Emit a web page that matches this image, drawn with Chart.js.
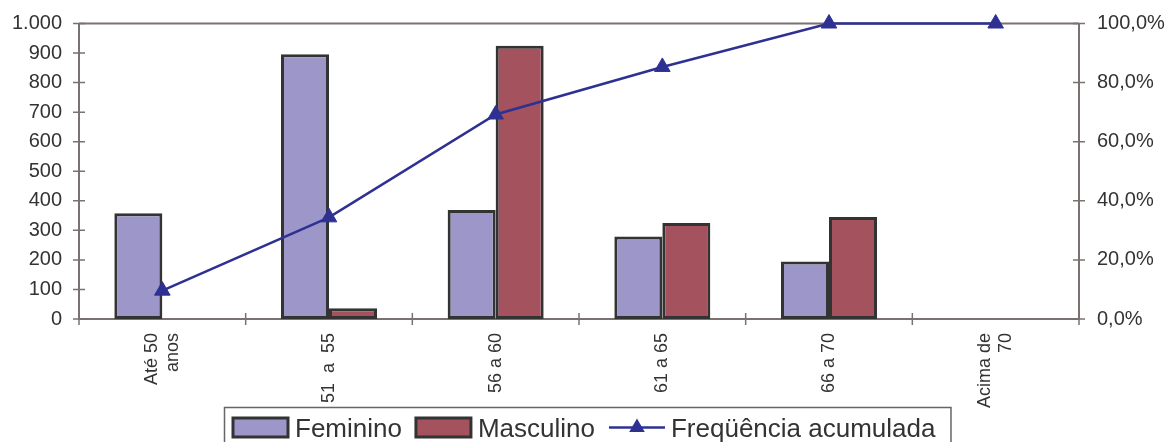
<!DOCTYPE html>
<html>
<head>
<meta charset="utf-8">
<script src="https://cdn.jsdelivr.net/npm/chart.js@4"></script>
<style>
  html, body { margin: 0; padding: 0; background: #fff; overflow: hidden; }
  #wrap { position: relative; width: 1167px; height: 442px; }
</style>
</head>
<body>
<div id="wrap"><canvas id="c" width="1167" height="442"></canvas></div>
<script>
// Age bands (multi-line labels for the category axis)
const categories = [['Até 50', 'anos'], ['51  a  55'], ['56 a 60'], ['61 a 65'], ['66 a 70'], ['Acima de', '70']];
// Counts per age band
const feminino = [358, 896, 369, 279, 195, 0];
const masculino = [0, 36, 925, 325, 345, 0];
// Cumulative frequency, in percent
const freqAcumulada = [9.6, 34.4, 69.2, 85.3, 100, 100];
// Axis ranges
const countAxis = { min: 0, max: 1000, step: 100 };
const pctAxis = { min: 0, max: 100, step: 20 };

const FONT = '"Liberation Sans", Arial, sans-serif';
const TEXT = '#333333';
const AXIS = '#7a7270';
const FEM = '#9c97c8';
const MASC = '#a5525f';
const LINE = '#2e3192';
const EDGE = '#333333';

function thousands(v) {
  return String(v).replace(/\B(?=(\d{3})+(?!\d))/g, '.');
}
function percent(v) {
  return v.toFixed(1).replace('.', ',') + '%';
}

// Frame line on top of the plot and tick marks that cross the axes
const axisMarks = {
  id: 'axisMarks',
  beforeDatasetsDraw(chart) {
    const { ctx, chartArea: a, scales } = chart;
    ctx.save();
    ctx.strokeStyle = AXIS;
    ctx.lineWidth = 2;
    ctx.beginPath();
    ctx.moveTo(a.left, a.top);
    ctx.lineTo(a.right, a.top);
    ctx.stroke();
    ctx.lineWidth = 1.5;
    ctx.beginPath();
    scales.y.ticks.forEach(t => {
      const py = scales.y.getPixelForValue(t.value);
      ctx.moveTo(a.left - 6, py); ctx.lineTo(a.left + 6, py);
    });
    scales.y1.ticks.forEach(t => {
      const py = scales.y1.getPixelForValue(t.value);
      ctx.moveTo(a.right - 6, py); ctx.lineTo(a.right + 6, py);
    });
    for (let i = 0; i <= categories.length; i++) {
      const px = scales.x.getPixelForValue(i - 0.5);
      ctx.moveTo(px, a.bottom - 6); ctx.lineTo(px, a.bottom + 6);
    }
    ctx.stroke();
    ctx.restore();
  }
};

// Vertical category labels, lines centred on each band
const bandLabels = {
  id: 'bandLabels',
  afterDraw(chart) {
    const { ctx, chartArea: a, scales } = chart;
    const lh = 21;
    ctx.save();
    ctx.fillStyle = TEXT;
    ctx.font = '18px ' + FONT;
    ctx.textAlign = 'right';
    ctx.textBaseline = 'middle';
    categories.forEach((lines, i) => {
      const px = scales.x.getPixelForTick(i);
      ctx.save();
      ctx.translate(px, a.bottom + 14);
      ctx.rotate(-Math.PI / 2);
      lines.forEach((s, j) => {
        ctx.fillText(s, 0, (j - (lines.length - 1) / 2) * lh);
      });
      ctx.restore();
    });
    ctx.restore();
  }
};

// Framed legend below the category labels
const framedLegend = {
  id: 'framedLegend',
  afterDraw(chart) {
    const { ctx } = chart;
    const top = 407;
    const left = 224;
    const midY = 427.5;
    ctx.save();
    ctx.font = '26px ' + FONT;
    ctx.textBaseline = 'alphabetic';
    ctx.fillStyle = TEXT;
    let x = 233;
    chart.data.datasets.slice().sort((p, q) => p.legendIndex - q.legendIndex).forEach(ds => {
      if (ds.type === 'line') {
        ctx.strokeStyle = ds.borderColor;
        ctx.lineWidth = 2.5;
        ctx.beginPath();
        ctx.moveTo(x, midY); ctx.lineTo(x + 56, midY);
        ctx.stroke();
        const r = 9, cx = x + 28;
        ctx.fillStyle = ds.pointBackgroundColor;
        ctx.beginPath();
        ctx.moveTo(cx, midY - r);
        ctx.lineTo(cx + r * 0.866, midY + r * 0.5);
        ctx.lineTo(cx - r * 0.866, midY + r * 0.5);
        ctx.closePath();
        ctx.fill();
        ctx.fillStyle = TEXT;
        ctx.fillText(ds.label, x + 62, 437);
        x += 62 + ctx.measureText(ds.label).width + 15;
      } else {
        ctx.fillStyle = ds.backgroundColor;
        ctx.fillRect(x, 418, 55, 19);
        ctx.strokeStyle = EDGE;
        ctx.lineWidth = 3;
        ctx.strokeRect(x, 418, 55, 19);
        ctx.fillStyle = TEXT;
        ctx.fillText(ds.label, x + 62, 437);
        x += 62 + ctx.measureText(ds.label).width + 14;
      }
    });
    ctx.strokeStyle = '#666';
    ctx.lineWidth = 1.5;
    ctx.strokeRect(left + 0.5, top + 0.5, x - left, 80);
    ctx.restore();
  }
};

new Chart(document.getElementById('c'), {
  data: {
    labels: categories,
    datasets: [
      {
        type: 'line', label: 'Freqüência acumulada', legendIndex: 2,
        data: freqAcumulada, yAxisID: 'y1', order: 0,
        borderColor: LINE, borderWidth: 2.5, tension: 0,
        pointStyle: 'triangle', pointRadius: 9, pointBorderWidth: 1,
        pointBackgroundColor: LINE, pointBorderColor: LINE, clip: false
      },
      {
        type: 'bar', label: 'Feminino', legendIndex: 0,
        data: feminino, yAxisID: 'y', order: 1,
        backgroundColor: FEM, borderColor: EDGE, borderWidth: 3, borderSkipped: false,
        barPercentage: 1, categoryPercentage: 0.576
      },
      {
        type: 'bar', label: 'Masculino', legendIndex: 1,
        data: masculino, yAxisID: 'y', order: 1,
        backgroundColor: MASC, borderColor: EDGE, borderWidth: 3, borderSkipped: false,
        barPercentage: 1, categoryPercentage: 0.576
      }
    ]
  },
  options: {
    responsive: false,
    animation: false,
    layout: { padding: { top: 23.5, bottom: 35, left: 0, right: 0 } },
    plugins: { legend: { display: false }, tooltip: { enabled: false } },
    scales: {
      x: {
        type: 'category', offset: true,
        grid: { display: false },
        border: { display: true, color: AXIS, width: 2 },
        ticks: { display: false },
        afterFit: s => { s.height = 88; }
      },
      y: {
        position: 'left', min: countAxis.min, max: countAxis.max,
        grid: { display: false },
        border: { display: true, color: AXIS, width: 2 },
        ticks: {
          stepSize: countAxis.step, padding: 9, color: TEXT,
          font: { family: FONT, size: 20, lineHeight: 1 }, callback: v => thousands(v)
        },
        afterFit: s => { s.width = 79; s.paddingTop = 0; s.paddingBottom = 0; }
      },
      y1: {
        position: 'right', min: pctAxis.min, max: pctAxis.max,
        grid: { display: false },
        border: { display: true, color: AXIS, width: 2 },
        ticks: {
          stepSize: pctAxis.step, padding: 10, color: TEXT,
          font: { family: FONT, size: 20, lineHeight: 1 }, callback: v => percent(v)
        },
        afterFit: s => { s.width = 88; s.paddingTop = 0; s.paddingBottom = 0; }
      }
    }
  },
  plugins: [axisMarks, bandLabels, framedLegend]
});
</script>
</body>
</html>
